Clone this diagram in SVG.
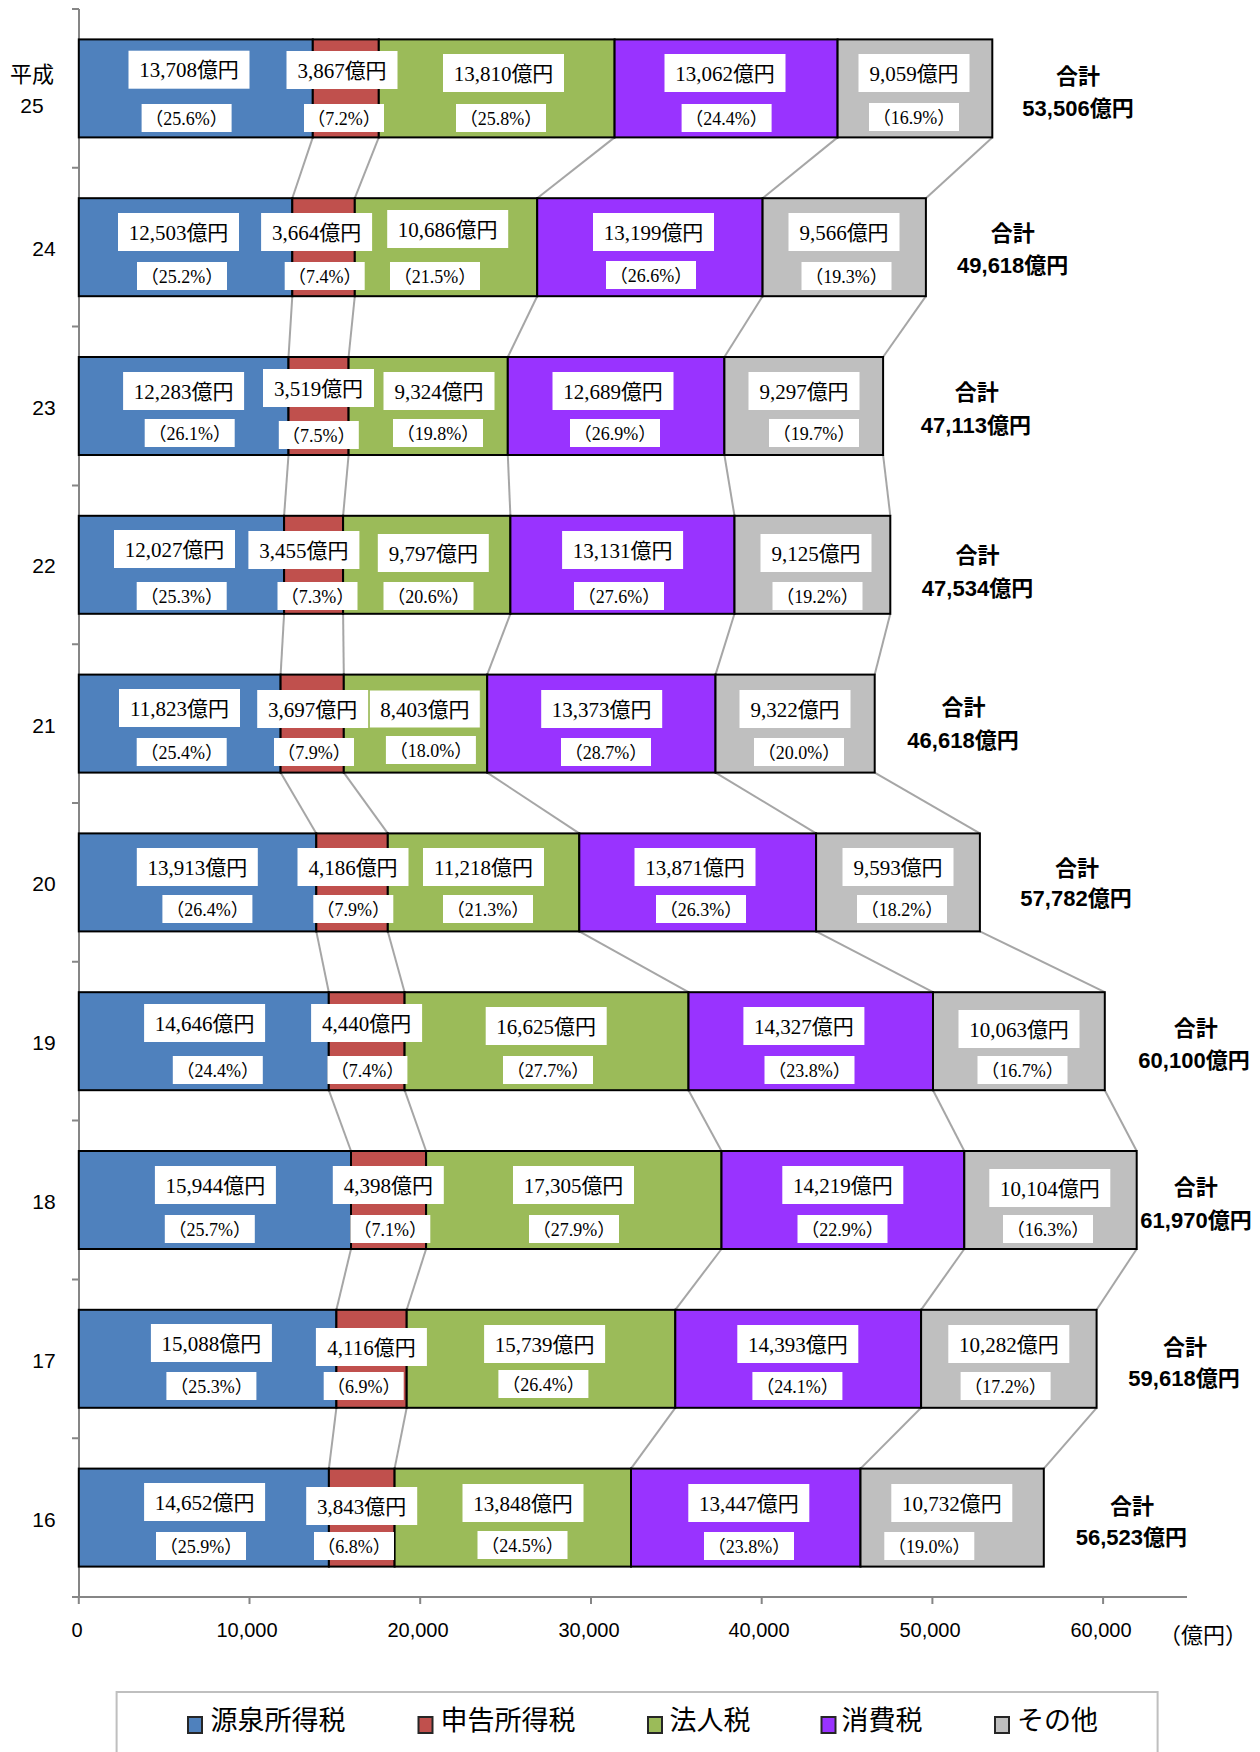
<svg xmlns="http://www.w3.org/2000/svg" width="1260" height="1752" viewBox="0 0 1260 1752">
<style>
.s{stroke:#000;stroke-width:2}
.b{fill:#4F81BD}.r{fill:#C0504D}.g{fill:#9BBB59}.p{fill:#9933FF}.o{fill:#BFBFBF}
.bx{fill:#fff}
.v{font-family:"Liberation Serif","Noto Sans CJK JP",serif;font-size:21px;text-anchor:middle;fill:#000}
.pc{font-family:"Liberation Serif","Noto Sans CJK JP",serif;font-size:18px;text-anchor:middle;fill:#000;font-feature-settings:"halt"}
.tot{font-family:"Liberation Sans","Noto Sans CJK JP",sans-serif;font-size:22px;font-weight:bold;text-anchor:middle;fill:#000}
.yr{font-family:"Liberation Sans","Noto Sans CJK JP",sans-serif;font-size:21px;text-anchor:middle;fill:#000}
.ax{font-family:"Liberation Sans","Noto Sans CJK JP",sans-serif;font-size:20px;text-anchor:middle;fill:#000}
.axl{stroke:#868686;stroke-width:2;fill:none}
.cn line{stroke:#A6A6A6;stroke-width:2}
.lg{font-family:"Noto Sans CJK JP",sans-serif;font-size:27px;fill:#000}
.lsq{stroke:#262626;stroke-width:2}
</style>

<g id="axes">
<line class="axl" x1="79" y1="9" x2="79" y2="1597"/>
<line class="axl" x1="79" y1="1597" x2="1187" y2="1597"/>
<path class="axl" d="M72 9H79M72 167.8H79M72 326.6H79M72 485.4H79M72 644.2H79M72 803H79M72 961.8H79M72 1120.6H79M72 1279.4H79M72 1438.2H79M72 1597H79"/>
<path class="axl" d="M78.8 1597V1604M249.5 1597V1604M420.2 1597V1604M591 1597V1604M761.7 1597V1604M932.4 1597V1604M1103.1 1597V1604"/>
<text class="ax" x="77" y="1637">0</text>
<text class="ax" x="247" y="1637">10,000</text>
<text class="ax" x="418" y="1637">20,000</text>
<text class="ax" x="589" y="1637">30,000</text>
<text class="ax" x="759" y="1637">40,000</text>
<text class="ax" x="930" y="1637">50,000</text>
<text class="ax" x="1101" y="1637">60,000</text>
<text class="ax" x="1203" y="1642.5" style="font-size:22px;font-feature-settings:'halt'">（億円）</text>
</g>

<g id="connectors" class="cn">
<line x1="312.8" y1="137.4" x2="292.3" y2="198.2"/><line x1="378.8" y1="137.4" x2="354.8" y2="198.2"/><line x1="614.6" y1="137.4" x2="537.2" y2="198.2"/><line x1="837.6" y1="137.4" x2="762.6" y2="198.2"/><line x1="992.3" y1="137.4" x2="925.9" y2="198.2"/>
<line x1="292.3" y1="296.2" x2="288.5" y2="357"/><line x1="354.8" y1="296.2" x2="348.6" y2="357"/><line x1="537.2" y1="296.2" x2="507.8" y2="357"/><line x1="762.6" y1="296.2" x2="724.4" y2="357"/><line x1="925.9" y1="296.2" x2="883.1" y2="357"/>
<line x1="288.5" y1="455" x2="284.1" y2="515.8"/><line x1="348.6" y1="455" x2="343.1" y2="515.8"/><line x1="507.8" y1="455" x2="510.4" y2="515.8"/><line x1="724.4" y1="455" x2="734.5" y2="515.8"/><line x1="883.1" y1="455" x2="890.3" y2="515.8"/>
<line x1="284.1" y1="613.8" x2="280.6" y2="674.6"/><line x1="343.1" y1="613.8" x2="343.8" y2="674.6"/><line x1="510.4" y1="613.8" x2="487.2" y2="674.6"/><line x1="734.5" y1="613.8" x2="715.5" y2="674.6"/><line x1="890.3" y1="613.8" x2="874.7" y2="674.6"/>
<line x1="280.6" y1="772.6" x2="316.3" y2="833.4"/><line x1="343.8" y1="772.6" x2="387.8" y2="833.4"/><line x1="487.2" y1="772.6" x2="579.3" y2="833.4"/><line x1="715.5" y1="772.6" x2="816.1" y2="833.4"/><line x1="874.7" y1="772.6" x2="979.9" y2="833.4"/>
<line x1="316.3" y1="931.4" x2="328.8" y2="992.2"/><line x1="387.8" y1="931.4" x2="404.6" y2="992.2"/><line x1="579.3" y1="931.4" x2="688.5" y2="992.2"/><line x1="816.1" y1="931.4" x2="933" y2="992.2"/><line x1="979.9" y1="931.4" x2="1104.8" y2="992.2"/>
<line x1="328.8" y1="1090.2" x2="351" y2="1151"/><line x1="404.6" y1="1090.2" x2="426.1" y2="1151"/><line x1="688.5" y1="1090.2" x2="721.5" y2="1151"/><line x1="933" y1="1090.2" x2="964.3" y2="1151"/><line x1="1104.8" y1="1090.2" x2="1136.7" y2="1151"/>
<line x1="351" y1="1249" x2="336.4" y2="1309.8"/><line x1="426.1" y1="1249" x2="406.7" y2="1309.8"/><line x1="721.5" y1="1249" x2="675.3" y2="1309.8"/><line x1="964.3" y1="1249" x2="921.1" y2="1309.8"/><line x1="1136.7" y1="1249" x2="1096.6" y2="1309.8"/>
<line x1="336.4" y1="1407.8" x2="328.9" y2="1468.6"/><line x1="406.7" y1="1407.8" x2="394.6" y2="1468.6"/><line x1="675.3" y1="1407.8" x2="631" y2="1468.6"/><line x1="921.1" y1="1407.8" x2="860.5" y2="1468.6"/><line x1="1096.6" y1="1407.8" x2="1043.8" y2="1468.6"/>
</g>

<g id="row-H25">
<text class="yr" x="32" y="82" style="font-size:22px">平成</text>
<text class="yr" x="32" y="113">25</text>
<rect class="s b" x="78.8" y="39.4" width="234" height="98"/>
<rect class="s r" x="312.8" y="39.4" width="66" height="98"/>
<rect class="s g" x="378.8" y="39.4" width="235.8" height="98"/>
<rect class="s p" x="614.6" y="39.4" width="223" height="98"/>
<rect class="s o" x="837.6" y="39.4" width="154.7" height="98"/>
<rect class="bx" x="128.5" y="50.7" width="121" height="38"/><text class="v" x="189" y="77.2">13,708億円</text>
<rect class="bx" x="141.6" y="104" width="90" height="28"/><text class="pc" x="186.6" y="124.5">（25.6%）</text>
<rect class="bx" x="286.5" y="51" width="111" height="38"/><text class="v" x="342" y="77.5">3,867億円</text>
<rect class="bx" x="304" y="104" width="80" height="28"/><text class="pc" x="344" y="124.5">（7.2%）</text>
<rect class="bx" x="443" y="54" width="121" height="38"/><text class="v" x="503.5" y="80.5">13,810億円</text>
<rect class="bx" x="456" y="104" width="90" height="28"/><text class="pc" x="501" y="124.5">（25.8%）</text>
<rect class="bx" x="664.5" y="54" width="121" height="38"/><text class="v" x="725" y="80.5">13,062億円</text>
<rect class="bx" x="681.6" y="104" width="90" height="28"/><text class="pc" x="726.6" y="124.5">（24.4%）</text>
<rect class="bx" x="858.5" y="54" width="111" height="38"/><text class="v" x="914" y="80.5">9,059億円</text>
<rect class="bx" x="869" y="103" width="90" height="28"/><text class="pc" x="914" y="123.5">（16.9%）</text>
<text class="tot" x="1078" y="83.5">合計</text><text class="tot" x="1078" y="115.7">53,506億円</text>
</g>

<g id="row-H24">
<text class="yr" x="44" y="255.5">24</text>
<rect class="s b" x="78.8" y="198.2" width="213.5" height="98"/>
<rect class="s r" x="292.3" y="198.2" width="62.5" height="98"/>
<rect class="s g" x="354.8" y="198.2" width="182.4" height="98"/>
<rect class="s p" x="537.2" y="198.2" width="225.4" height="98"/>
<rect class="s o" x="762.6" y="198.2" width="163.3" height="98"/>
<rect class="bx" x="118" y="213" width="121" height="38"/><text class="v" x="178.5" y="239.5">12,503億円</text>
<rect class="bx" x="137" y="262" width="90" height="28"/><text class="pc" x="182" y="282.5">（25.2%）</text>
<rect class="bx" x="261.1" y="213" width="111" height="38"/><text class="v" x="316.6" y="239.5">3,664億円</text>
<rect class="bx" x="284.7" y="262" width="80" height="28"/><text class="pc" x="324.7" y="282.5">（7.4%）</text>
<rect class="bx" x="387.2" y="210" width="121" height="38"/><text class="v" x="447.7" y="236.5">10,686億円</text>
<rect class="bx" x="390" y="262" width="90" height="28"/><text class="pc" x="435" y="282.5">（21.5%）</text>
<rect class="bx" x="593" y="213" width="121" height="38"/><text class="v" x="653.5" y="239.5">13,199億円</text>
<rect class="bx" x="606" y="261" width="90" height="28"/><text class="pc" x="651" y="281.5">（26.6%）</text>
<rect class="bx" x="788.5" y="213" width="111" height="38"/><text class="v" x="844" y="239.5">9,566億円</text>
<rect class="bx" x="801.5" y="262" width="90" height="28"/><text class="pc" x="846.5" y="282.5">（19.3%）</text>
<text class="tot" x="1012.7" y="241">合計</text><text class="tot" x="1012.7" y="273.3">49,618億円</text>
</g>

<g id="row-H23">
<text class="yr" x="44" y="415">23</text>
<rect class="s b" x="78.8" y="357" width="209.7" height="98"/>
<rect class="s r" x="288.5" y="357" width="60.1" height="98"/>
<rect class="s g" x="348.6" y="357" width="159.2" height="98"/>
<rect class="s p" x="507.8" y="357" width="216.6" height="98"/>
<rect class="s o" x="724.4" y="357" width="158.7" height="98"/>
<rect class="bx" x="123.1" y="372" width="121" height="38"/><text class="v" x="183.6" y="398.5">12,283億円</text>
<rect class="bx" x="144.7" y="419" width="90" height="28"/><text class="pc" x="189.7" y="439.5">（26.1%）</text>
<rect class="bx" x="263" y="369" width="111" height="38"/><text class="v" x="318.5" y="395.5">3,519億円</text>
<rect class="bx" x="278.8" y="421" width="80" height="28"/><text class="pc" x="318.8" y="441.5">（7.5%）</text>
<rect class="bx" x="383.5" y="372" width="111" height="38"/><text class="v" x="439" y="398.5">9,324億円</text>
<rect class="bx" x="393" y="419" width="90" height="28"/><text class="pc" x="438" y="439.5">（19.8%）</text>
<rect class="bx" x="552.5" y="372" width="121" height="38"/><text class="v" x="613" y="398.5">12,689億円</text>
<rect class="bx" x="570" y="419" width="90" height="28"/><text class="pc" x="615" y="439.5">（26.9%）</text>
<rect class="bx" x="748.5" y="372" width="111" height="38"/><text class="v" x="804" y="398.5">9,297億円</text>
<rect class="bx" x="769" y="419" width="90" height="28"/><text class="pc" x="814" y="439.5">（19.7%）</text>
<text class="tot" x="976.7" y="400">合計</text><text class="tot" x="975.9" y="433">47,113億円</text>
</g>

<g id="row-H22">
<text class="yr" x="44" y="573.3">22</text>
<rect class="s b" x="78.8" y="515.8" width="205.3" height="98"/>
<rect class="s r" x="284.1" y="515.8" width="59" height="98"/>
<rect class="s g" x="343.1" y="515.8" width="167.3" height="98"/>
<rect class="s p" x="510.4" y="515.8" width="224.1" height="98"/>
<rect class="s o" x="734.5" y="515.8" width="155.8" height="98"/>
<rect class="bx" x="114" y="530" width="121" height="38"/><text class="v" x="174.5" y="556.5">12,027億円</text>
<rect class="bx" x="136.7" y="582" width="90" height="28"/><text class="pc" x="181.7" y="602.5">（25.3%）</text>
<rect class="bx" x="248.4" y="531" width="111" height="38"/><text class="v" x="303.9" y="557.5">3,455億円</text>
<rect class="bx" x="277.5" y="582" width="80" height="28"/><text class="pc" x="317.5" y="602.5">（7.3%）</text>
<rect class="bx" x="377.8" y="534" width="111" height="38"/><text class="v" x="433.3" y="560.5">9,797億円</text>
<rect class="bx" x="383.5" y="582" width="90" height="28"/><text class="pc" x="428.5" y="602.5">（20.6%）</text>
<rect class="bx" x="562.1" y="531" width="121" height="38"/><text class="v" x="622.6" y="557.5">13,131億円</text>
<rect class="bx" x="574" y="582" width="90" height="28"/><text class="pc" x="619" y="602.5">（27.6%）</text>
<rect class="bx" x="760.5" y="534" width="111" height="38"/><text class="v" x="816" y="560.5">9,125億円</text>
<rect class="bx" x="772.5" y="582" width="90" height="28"/><text class="pc" x="817.5" y="602.5">（19.2%）</text>
<text class="tot" x="977.5" y="563">合計</text><text class="tot" x="977.5" y="596">47,534億円</text>
</g>

<g id="row-H21">
<text class="yr" x="44" y="732.5">21</text>
<rect class="s b" x="78.8" y="674.6" width="201.8" height="98"/>
<rect class="s r" x="280.6" y="674.6" width="63.2" height="98"/>
<rect class="s g" x="343.8" y="674.6" width="143.4" height="98"/>
<rect class="s p" x="487.2" y="674.6" width="228.3" height="98"/>
<rect class="s o" x="715.5" y="674.6" width="159.2" height="98"/>
<rect class="bx" x="119" y="689" width="121" height="38"/><text class="v" x="179.5" y="715.5">11,823億円</text>
<rect class="bx" x="136.7" y="738" width="90" height="28"/><text class="pc" x="181.7" y="758.5">（25.4%）</text>
<rect class="bx" x="257.2" y="690" width="111" height="38"/><text class="v" x="312.7" y="716.5">3,697億円</text>
<rect class="bx" x="274" y="738" width="80" height="28"/><text class="pc" x="314" y="758.5">（7.9%）</text>
<rect class="bx" x="369.3" y="690" width="111" height="38" stroke="#9BBB59" stroke-width="1"/><text class="v" x="424.8" y="716.5">8,403億円</text>
<rect class="bx" x="385.9" y="736" width="90" height="28"/><text class="pc" x="430.9" y="756.5">（18.0%）</text>
<rect class="bx" x="541.2" y="690" width="121" height="38"/><text class="v" x="601.7" y="716.5">13,373億円</text>
<rect class="bx" x="561" y="738" width="90" height="28"/><text class="pc" x="606" y="758.5">（28.7%）</text>
<rect class="bx" x="739.5" y="690" width="111" height="38"/><text class="v" x="795" y="716.5">9,322億円</text>
<rect class="bx" x="754" y="738" width="90" height="28"/><text class="pc" x="799" y="758.5">（20.0%）</text>
<text class="tot" x="963.4" y="715">合計</text><text class="tot" x="963" y="747.5">46,618億円</text>
</g>

<g id="row-H20">
<text class="yr" x="44" y="890.5">20</text>
<rect class="s b" x="78.8" y="833.4" width="237.5" height="98"/>
<rect class="s r" x="316.3" y="833.4" width="71.5" height="98"/>
<rect class="s g" x="387.8" y="833.4" width="191.5" height="98"/>
<rect class="s p" x="579.3" y="833.4" width="236.8" height="98"/>
<rect class="s o" x="816.1" y="833.4" width="163.8" height="98"/>
<rect class="bx" x="136.8" y="848" width="121" height="38"/><text class="v" x="197.3" y="874.5">13,913億円</text>
<rect class="bx" x="162.4" y="895" width="90" height="28"/><text class="pc" x="207.4" y="915.5">（26.4%）</text>
<rect class="bx" x="297.5" y="848" width="111" height="38"/><text class="v" x="353" y="874.5">4,186億円</text>
<rect class="bx" x="313.3" y="895" width="80" height="28"/><text class="pc" x="353.3" y="915.5">（7.9%）</text>
<rect class="bx" x="423" y="848" width="121" height="38"/><text class="v" x="483.5" y="874.5">11,218億円</text>
<rect class="bx" x="443" y="895" width="90" height="28"/><text class="pc" x="488" y="915.5">（21.3%）</text>
<rect class="bx" x="634.5" y="848" width="121" height="38"/><text class="v" x="695" y="874.5">13,871億円</text>
<rect class="bx" x="656" y="895" width="90" height="28"/><text class="pc" x="701" y="915.5">（26.3%）</text>
<rect class="bx" x="842.5" y="848" width="111" height="38"/><text class="v" x="898" y="874.5">9,593億円</text>
<rect class="bx" x="857" y="895" width="90" height="28"/><text class="pc" x="902" y="915.5">（18.2%）</text>
<text class="tot" x="1077" y="875.5">合計</text><text class="tot" x="1076" y="906">57,782億円</text>
</g>

<g id="row-H19">
<text class="yr" x="44" y="1050">19</text>
<rect class="s b" x="78.8" y="992.2" width="250" height="98"/>
<rect class="s r" x="328.8" y="992.2" width="75.8" height="98"/>
<rect class="s g" x="404.6" y="992.2" width="283.9" height="98"/>
<rect class="s p" x="688.5" y="992.2" width="244.5" height="98"/>
<rect class="s o" x="933" y="992.2" width="171.8" height="98"/>
<rect class="bx" x="144.1" y="1004" width="121" height="38"/><text class="v" x="204.6" y="1030.5">14,646億円</text>
<rect class="bx" x="172.8" y="1056" width="90" height="28"/><text class="pc" x="217.8" y="1076.5">（24.4%）</text>
<rect class="bx" x="311.1" y="1004" width="111" height="38"/><text class="v" x="366.6" y="1030.5">4,440億円</text>
<rect class="bx" x="327.4" y="1056" width="80" height="28"/><text class="pc" x="367.4" y="1076.5">（7.4%）</text>
<rect class="bx" x="485.7" y="1007" width="121" height="38"/><text class="v" x="546.2" y="1033.5">16,625億円</text>
<rect class="bx" x="503" y="1056" width="90" height="28"/><text class="pc" x="548" y="1076.5">（27.7%）</text>
<rect class="bx" x="743.4" y="1007" width="121" height="38"/><text class="v" x="803.9" y="1033.5">14,327億円</text>
<rect class="bx" x="764.5" y="1056" width="90" height="28"/><text class="pc" x="809.5" y="1076.5">（23.8%）</text>
<rect class="bx" x="958.5" y="1010" width="121" height="38"/><text class="v" x="1019" y="1036.5">10,063億円</text>
<rect class="bx" x="977.5" y="1056" width="90" height="28"/><text class="pc" x="1022.5" y="1076.5">（16.7%）</text>
<text class="tot" x="1195.7" y="1036">合計</text><text class="tot" x="1194" y="1068">60,100億円</text>
</g>

<g id="row-H18">
<text class="yr" x="44" y="1208.5">18</text>
<rect class="s b" x="78.8" y="1151" width="272.2" height="98"/>
<rect class="s r" x="351" y="1151" width="75.1" height="98"/>
<rect class="s g" x="426.1" y="1151" width="295.4" height="98"/>
<rect class="s p" x="721.5" y="1151" width="242.8" height="98"/>
<rect class="s o" x="964.3" y="1151" width="172.4" height="98"/>
<rect class="bx" x="154.9" y="1166" width="121" height="38"/><text class="v" x="215.4" y="1192.5">15,944億円</text>
<rect class="bx" x="164.8" y="1215" width="90" height="28"/><text class="pc" x="209.8" y="1235.5">（25.7%）</text>
<rect class="bx" x="332.8" y="1166" width="111" height="38"/><text class="v" x="388.3" y="1192.5">4,398億円</text>
<rect class="bx" x="350.3" y="1215" width="80" height="28"/><text class="pc" x="390.3" y="1235.5">（7.1%）</text>
<rect class="bx" x="513" y="1166" width="121" height="38"/><text class="v" x="573.5" y="1192.5">17,305億円</text>
<rect class="bx" x="529" y="1215" width="90" height="28"/><text class="pc" x="574" y="1235.5">（27.9%）</text>
<rect class="bx" x="782.3" y="1166" width="121" height="38"/><text class="v" x="842.8" y="1192.5">14,219億円</text>
<rect class="bx" x="797.5" y="1215" width="90" height="28"/><text class="pc" x="842.5" y="1235.5">（22.9%）</text>
<rect class="bx" x="989.3" y="1169" width="121" height="38"/><text class="v" x="1049.8" y="1195.5">10,104億円</text>
<rect class="bx" x="1003" y="1215" width="90" height="28"/><text class="pc" x="1048" y="1235.5">（16.3%）</text>
<text class="tot" x="1195.7" y="1195">合計</text><text class="tot" x="1196" y="1227.5">61,970億円</text>
</g>

<g id="row-H17">
<text class="yr" x="44" y="1367.5">17</text>
<rect class="s b" x="78.8" y="1309.8" width="257.6" height="98"/>
<rect class="s r" x="336.4" y="1309.8" width="70.3" height="98"/>
<rect class="s g" x="406.7" y="1309.8" width="268.6" height="98"/>
<rect class="s p" x="675.3" y="1309.8" width="245.8" height="98"/>
<rect class="s o" x="921.1" y="1309.8" width="175.5" height="98"/>
<rect class="bx" x="150.9" y="1324" width="121" height="38"/><text class="v" x="211.4" y="1350.5">15,088億円</text>
<rect class="bx" x="166.4" y="1372" width="90" height="28"/><text class="pc" x="211.4" y="1392.5">（25.3%）</text>
<rect class="bx" x="315.9" y="1328" width="111" height="38"/><text class="v" x="371.4" y="1354.5">4,116億円</text>
<rect class="bx" x="323.7" y="1372" width="80" height="28"/><text class="pc" x="363.7" y="1392.5">（6.9%）</text>
<rect class="bx" x="484.1" y="1325" width="121" height="38"/><text class="v" x="544.6" y="1351.5">15,739億円</text>
<rect class="bx" x="498.4" y="1370" width="90" height="28"/><text class="pc" x="543.4" y="1390.5">（26.4%）</text>
<rect class="bx" x="737.3" y="1325" width="121" height="38"/><text class="v" x="797.8" y="1351.5">14,393億円</text>
<rect class="bx" x="752.4" y="1372" width="90" height="28"/><text class="pc" x="797.4" y="1392.5">（24.1%）</text>
<rect class="bx" x="948.3" y="1325" width="121" height="38"/><text class="v" x="1008.8" y="1351.5">10,282億円</text>
<rect class="bx" x="960.6" y="1372" width="90" height="28"/><text class="pc" x="1005.6" y="1392.5">（17.2%）</text>
<text class="tot" x="1185" y="1355">合計</text><text class="tot" x="1184" y="1386">59,618億円</text>
</g>

<g id="row-H16">
<text class="yr" x="44" y="1526.5">16</text>
<rect class="s b" x="78.8" y="1468.6" width="250.1" height="98"/>
<rect class="s r" x="328.9" y="1468.6" width="65.7" height="98"/>
<rect class="s g" x="394.6" y="1468.6" width="236.4" height="98"/>
<rect class="s p" x="631" y="1468.6" width="229.5" height="98"/>
<rect class="s o" x="860.5" y="1468.6" width="183.3" height="98"/>
<rect class="bx" x="144.1" y="1483" width="121" height="38"/><text class="v" x="204.6" y="1509.5">14,652億円</text>
<rect class="bx" x="156" y="1532" width="90" height="28"/><text class="pc" x="201" y="1552.5">（25.9%）</text>
<rect class="bx" x="306.2" y="1487" width="111" height="38"/><text class="v" x="361.7" y="1513.5">3,843億円</text>
<rect class="bx" x="314" y="1532" width="80" height="28"/><text class="pc" x="354" y="1552.5">（6.8%）</text>
<rect class="bx" x="462.5" y="1484" width="121" height="38"/><text class="v" x="523" y="1510.5">13,848億円</text>
<rect class="bx" x="477.5" y="1531" width="90" height="28"/><text class="pc" x="522.5" y="1551.5">（24.5%）</text>
<rect class="bx" x="688.3" y="1484" width="121" height="38"/><text class="v" x="748.8" y="1510.5">13,447億円</text>
<rect class="bx" x="704" y="1532" width="90" height="28"/><text class="pc" x="749" y="1552.5">（23.8%）</text>
<rect class="bx" x="891.3" y="1484" width="121" height="38"/><text class="v" x="951.8" y="1510.5">10,732億円</text>
<rect class="bx" x="884.3" y="1532" width="90" height="28"/><text class="pc" x="929.3" y="1552.5">（19.0%）</text>
<text class="tot" x="1132" y="1514">合計</text><text class="tot" x="1131.4" y="1545">56,523億円</text>
</g>

<g id="legend">
<rect x="116.6" y="1692" width="1041" height="100" fill="#fff" stroke="#BFBFBF" stroke-width="2"/>
<rect class="lsq b" x="188" y="1717" width="14" height="16"/><text class="lg" x="210.6" y="1730">源泉所得税</text>
<rect class="lsq r" x="418.5" y="1717" width="14" height="16"/><text class="lg" x="440.5" y="1730">申告所得税</text>
<rect class="lsq g" x="648" y="1717" width="14" height="16"/><text class="lg" x="669.6" y="1730">法人税</text>
<rect class="lsq p" x="821.5" y="1717" width="14" height="16"/><text class="lg" x="841.6" y="1730">消費税</text>
<rect class="lsq o" x="995" y="1717" width="14" height="16"/><text class="lg" x="1017" y="1730">その他</text>
</g>
</svg>
